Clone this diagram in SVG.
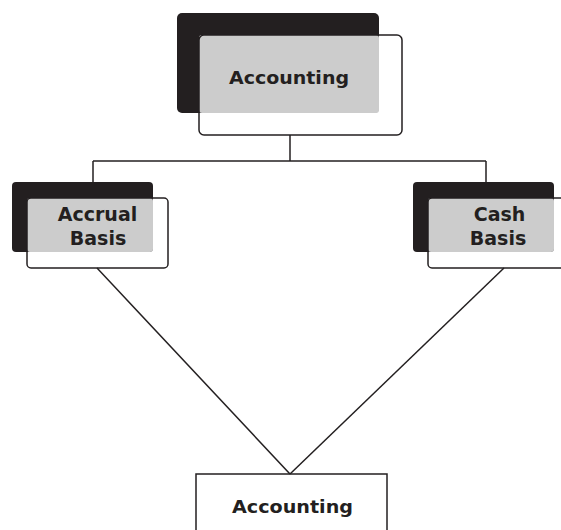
<svg xmlns="http://www.w3.org/2000/svg" width="561" height="530" viewBox="0 0 561 530">
<style>
.blk{fill:#231f20}
.gry{fill:#cccccc}
.out{fill:none;stroke:#231f20;stroke-width:1.5}
.ln{fill:none;stroke:#231f20;stroke-width:1.5}
.t{font-family:"DejaVu Sans",sans-serif;font-weight:bold;font-size:18px;fill:#231f20;text-anchor:middle}
.s{font-size:19px}
</style>
<rect width="561" height="530" fill="#ffffff"/>
<g id="connectors">
<line class="ln" x1="290" y1="135" x2="290" y2="161"/>
<line class="ln" x1="93" y1="161" x2="486" y2="161"/>
<line class="ln" x1="93" y1="161" x2="93" y2="182"/>
<line class="ln" x1="486" y1="161" x2="486" y2="182"/>
<line class="ln" x1="97" y1="268" x2="290" y2="474"/>
<line class="ln" x1="504" y1="268" x2="290" y2="474"/>
</g>
<g id="node-accounting-top">
<rect class="blk" x="177" y="13" width="202" height="100" rx="5"/>
<rect class="gry" x="199" y="35" width="180" height="78" rx="3"/>
<rect class="out" x="199" y="35" width="203" height="100" rx="5"/>
<text class="t" x="289" y="84" textLength="120" lengthAdjust="spacingAndGlyphs">Accounting</text>
</g>
<g id="node-accrual">
<rect class="blk" x="12" y="182" width="141" height="70" rx="4"/>
<rect class="gry" x="27" y="198" width="126" height="54" rx="3"/>
<rect class="out" x="27" y="198" width="141" height="70" rx="4"/>
<text class="t s" x="97.5" y="221">Accrual</text>
<text class="t s" x="98" y="245">Basis</text>
</g>
<g id="node-cash">
<rect class="blk" x="413" y="182" width="141" height="70" rx="4"/>
<rect class="gry" x="428" y="198" width="126" height="54" rx="3"/>
<rect class="out" x="428" y="198" width="141" height="70" rx="4"/>
<text class="t s" x="499.5" y="221">Cash</text>
<text class="t s" x="498" y="245">Basis</text>
</g>
<g id="node-accounting-bottom">
<rect class="out" x="196" y="474" width="191" height="70"/>
<text class="t" x="292.5" y="513" textLength="121" lengthAdjust="spacingAndGlyphs">Accounting</text>
</g>
</svg>
